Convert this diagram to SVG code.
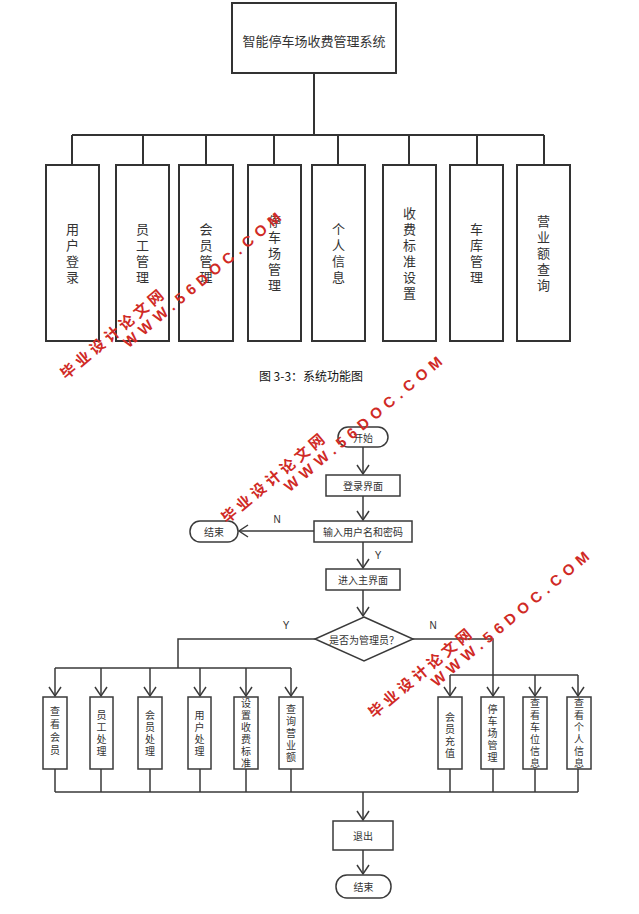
<svg xmlns="http://www.w3.org/2000/svg" xmlns:xlink="http://www.w3.org/1999/xlink" width="639" height="914" viewBox="0 0 639 914">
<style>
.bx{fill:#fff;stroke:#333;stroke-width:2}
.fb{fill:#fff;stroke:#3a3a3a;stroke-width:1.5}
.ln{fill:none;stroke:#333;stroke-width:2}
.fl{fill:none;stroke:#3a3a3a;stroke-width:1.5}
.t{font-family:"Noto Sans CJK SC","Noto Sans",sans-serif;fill:#333;text-anchor:middle;dominant-baseline:central}
.v{font-family:"Noto Sans CJK SC","Noto Sans",sans-serif;fill:#333;text-anchor:middle;writing-mode:vertical-rl}
.tt{font-size:13px}
.vtt{font-size:13px;letter-spacing:3px}
.ft{font-size:10px}
.vt{font-size:10px;letter-spacing:2px}
.vt3{font-size:10px;letter-spacing:3px}
.lb{font-family:"Liberation Sans",Arial,sans-serif;font-size:10px;fill:#333;text-anchor:middle;dominant-baseline:central}
.wm1{font-family:"Noto Sans CJK SC",sans-serif;font-weight:bold;font-size:15px;letter-spacing:4px;fill:#d02a25}
.wm2{font-family:"Liberation Sans",Arial,sans-serif;font-weight:bold;font-size:15px;letter-spacing:5.5px;fill:#d02a25}
</style>
<defs>
<marker id="ah" markerUnits="userSpaceOnUse" markerWidth="14" markerHeight="14" viewBox="-1 -1 12 14" refX="9" refY="6" orient="auto">
<path d="M0,0 L9,6 L0,12" fill="none" stroke="#3a3a3a" stroke-width="1.5"/>
</marker>
<g id="wm">
<text class="wm1" x="0" y="0">毕业设计论文网</text>
<text class="wm2" x="68" y="16">WWW.56DOC.COM</text>
</g>
</defs>
<rect width="639" height="914" fill="#fff"/>

<!-- Part 1: system function diagram -->
<g id="connectors-top">
<path class="ln" d="M314,73 V135 M72,135 H544 M72,135 V165 M143,135 V165 M206,135 V165 M274,135 V165 M338,135 V165 M409,135 V165 M477,135 V165 M544,135 V165"/>
</g>
<g id="root">
<rect class="bx" x="232" y="3" width="164" height="70"/>
<text class="t tt" x="314" y="40">智能停车场收费管理系统</text>
</g>
<g id="n-yhdl">
<rect class="bx" x="46" y="165" width="53" height="176"/>
<text class="v vtt" x="72.5" y="254.5">用户登录</text>
</g>
<g id="n-yggl">
<rect class="bx" x="116" y="165" width="53" height="176"/>
<text class="v vtt" x="142.5" y="254.5">员工管理</text>
</g>
<g id="n-hygl">
<rect class="bx" x="179" y="165" width="54" height="176"/>
<text class="v vtt" x="206" y="254.5">会员管理</text>
</g>
<g id="n-tccgl">
<rect class="bx" x="248" y="165" width="53" height="176"/>
<text class="v vtt" x="274.5" y="254.5">停车场管理</text>
</g>
<g id="n-grxx">
<rect class="bx" x="312" y="165" width="53" height="176"/>
<text class="v vtt" x="338.5" y="254.5">个人信息</text>
</g>
<g id="n-sfbz">
<rect class="bx" x="383" y="165" width="53" height="176"/>
<text class="v vtt" x="409.5" y="254.5">收费标准设置</text>
</g>
<g id="n-ckgl">
<rect class="bx" x="450" y="165" width="53" height="176"/>
<text class="v vtt" x="476.5" y="254.5">车库管理</text>
</g>
<g id="n-yyecx">
<rect class="bx" x="517" y="165" width="53" height="176"/>
<text class="v vtt" x="543.5" y="254.5">营业额查询</text>
</g>
<text x="311" y="375" font-family="'Noto Sans CJK SC',sans-serif" font-size="12" fill="#111" text-anchor="middle" dominant-baseline="central">图 3-3：系统功能图</text>

<!-- Part 2: flowchart -->
<g id="connectors-flow">
<path class="fl" d="M363,447 V474" marker-end="url(#ah)"/>
<path class="fl" d="M363,496 V520" marker-end="url(#ah)"/>
<path class="fl" d="M314,531 H239" marker-end="url(#ah)"/>
<path class="fl" d="M363,542 V568" marker-end="url(#ah)"/>
<path class="fl" d="M363,590 V616" marker-end="url(#ah)"/>
<path class="fl" d="M315,639 H178 V668 M55,668 H291"/>
<path class="fl" d="M55,668 V696" marker-end="url(#ah)"/>
<path class="fl" d="M101,668 V696" marker-end="url(#ah)"/>
<path class="fl" d="M150,668 V696" marker-end="url(#ah)"/>
<path class="fl" d="M200,668 V696" marker-end="url(#ah)"/>
<path class="fl" d="M246,668 V696" marker-end="url(#ah)"/>
<path class="fl" d="M291,668 V696" marker-end="url(#ah)"/>
<path class="fl" d="M413,639 H493 V696" marker-end="url(#ah)"/>
<path class="fl" d="M450,675 H578"/>
<path class="fl" d="M450,675 V696" marker-end="url(#ah)"/>
<path class="fl" d="M535,675 V696" marker-end="url(#ah)"/>
<path class="fl" d="M578,675 V696" marker-end="url(#ah)"/>
<path class="fl" d="M55,769 V792 M101,769 V792 M150,769 V792 M200,769 V792 M246,769 V792 M291,769 V792 M450,769 V792 M493,769 V792 M535,769 V792 M578,769 V792 M55,792 H578"/>
<path class="fl" d="M363,792 V820" marker-end="url(#ah)"/>
<path class="fl" d="M363,850 V874" marker-end="url(#ah)"/>
<text class="lb" x="277" y="519">N</text>
<text class="lb" x="378" y="555">Y</text>
<text class="lb" x="286" y="625">Y</text>
<text class="lb" x="433" y="625">N</text>
</g>
<g id="f-start">
<rect class="fb" x="338" y="427" width="50" height="20" rx="10"/>
<text class="t ft" x="363" y="437">开始</text>
</g>
<g id="f-login">
<rect class="fb" x="326" y="475" width="74" height="21"/>
<text class="t ft" x="363" y="485.5">登录界面</text>
</g>
<g id="f-input">
<rect class="fb" x="314" y="521" width="98" height="21"/>
<text class="t ft" x="363" y="531.5">输入用户名和密码</text>
</g>
<g id="f-end1">
<rect class="fb" x="190" y="521" width="48" height="21" rx="10"/>
<text class="t ft" x="214" y="531.5">结束</text>
</g>
<g id="f-main">
<rect class="fb" x="326" y="569" width="74" height="21"/>
<text class="t ft" x="363" y="579.5">进入主界面</text>
</g>
<g id="f-decision">
<path class="fb" d="M364,617 L413,639 L364,661 L315,639 Z"/>
<text class="t ft" x="364" y="639">是否为管理员？</text>
</g>
<g id="f-ckhy">
<rect class="fb" x="43" y="697" width="24" height="72"/>
<text class="v vt3" x="55" y="732">查看会员</text>
</g>
<g id="f-ygcl">
<rect class="fb" x="90" y="697" width="23" height="72"/>
<text class="v vt" x="101.5" y="734">员工处理</text>
</g>
<g id="f-hycl">
<rect class="fb" x="138" y="697" width="24" height="72"/>
<text class="v vt" x="150" y="734">会员处理</text>
</g>
<g id="f-yhcl">
<rect class="fb" x="188" y="697" width="23" height="72"/>
<text class="v vt" x="199.5" y="734">用户处理</text>
</g>
<g id="f-szsfbz">
<rect class="fb" x="234" y="697" width="24" height="72"/>
<text class="v vt" x="246" y="734">设置收费标准</text>
</g>
<g id="f-cxyye">
<rect class="fb" x="279" y="697" width="24" height="72"/>
<text class="v vt" x="291" y="734">查询营业额</text>
</g>
<g id="f-hycz">
<rect class="fb" x="438" y="697" width="24" height="72"/>
<text class="v vt" x="450" y="736">会员充值</text>
</g>
<g id="f-tccgl">
<rect class="fb" x="481" y="697" width="23" height="72"/>
<text class="v vt" x="492.5" y="734">停车场管理</text>
</g>
<g id="f-ckcwxx">
<rect class="fb" x="523" y="697" width="24" height="72"/>
<text class="v vt" x="535" y="734">查看车位信息</text>
</g>
<g id="f-ckgrxx">
<rect class="fb" x="567" y="697" width="24" height="72"/>
<text class="v vt" x="579" y="734">查看个人信息</text>
</g>
<g id="f-exit">
<rect class="fb" x="333" y="821" width="60" height="29"/>
<text class="t ft" x="363" y="835.5">退出</text>
</g>
<g id="f-end2">
<rect class="fb" x="336" y="875" width="55" height="23" rx="11"/>
<text class="t ft" x="363.5" y="886.5">结束</text>
</g>

<!-- watermarks -->
<g id="watermarks">
<use xlink:href="#wm" transform="translate(66,380) rotate(-40)"/>
<use xlink:href="#wm" transform="translate(227,524) rotate(-40)"/>
<use xlink:href="#wm" transform="translate(374,719) rotate(-40)"/>
</g>
</svg>
